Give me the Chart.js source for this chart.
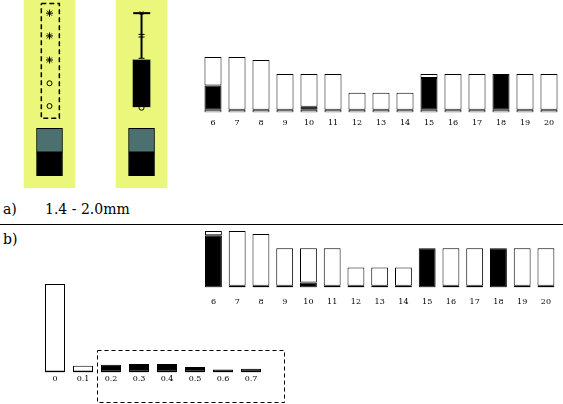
<!DOCTYPE html>
<html>
<head>
<meta charset="utf-8">
<script src="https://cdn.jsdelivr.net/npm/chart.js@4/dist/chart.umd.min.js"></script>
<style>
body { margin: 0; background: #fff; font-family: "DejaVu Serif", serif; }
#page { position: relative; width: 563px; height: 404px; overflow: hidden; }
canvas { position: absolute; }
.lbl { position: absolute; font-size: 14px; color: #000; white-space: nowrap; }
#sep { position: absolute; left: 0; top: 224px; width: 563px; height: 1px; background: #000; }
</style>
</head>
<body>
<div id="page">
  <canvas id="boxes" width="180" height="188" style="left:0;top:0"></canvas>
  <canvas id="topBars" width="360" height="76" style="left:201px;top:57px"></canvas>
  <canvas id="bottomBars" width="360" height="86" style="left:201px;top:231px"></canvas>
  <canvas id="sizeBars" width="245" height="120" style="left:41px;top:284px"></canvas>
  <div class="lbl" style="left:3px;top:201px">a)</div>
  <div class="lbl" style="left:45px;top:201px">1.4 - 2.0mm</div>
  <div id="sep"></div>
  <div class="lbl" style="left:3px;top:231px">b)</div>
</div>
<script>
// categories des barres a droite
var stations = ['6', '7', '8', '9', '10', '11', '12', '13', '14', '15', '16', '17', '18', '19', '20'];
var totals = [100, 100, 94.6, 69.5, 69.5, 69.5, 35.4, 35.4, 35.4, 69.5, 69.5, 69.5, 69.5, 69.5, 69.5];

// a) partie noire et socle
var topBase = [5, 5, 5, 5, 5, 5, 5, 5, 5, 5, 5, 5, 5, 5, 5];
var topBlack = [43.5, 0, 0, 0, 5.2, 0, 0, 0, 0, 57.3, 0, 0, 64.5, 0, 0];
// b) partie noire
var bottomBlack = [92.3, 3, 3, 3, 8.9, 3, 3, 3, 3, 69.5, 3, 3, 69.5, 3, 3];

// classes de taille en bas a gauche
var sizeClasses = ['0', '0.1', '0.2', '0.3', '0.4', '0.5', '0.6', '0.7'];
var sizeValues = [100, 7.6, 8.7, 9.4, 9.4, 6.0, 3.4, 4.2];
var sizeFilled = [false, false, true, true, true, true, true, true];
var sizeFrame = [1.5, 8.18, 25.6, -34]; // cadre pointille (x1, x2, yhaut, ybas)

// boites a gauche (echelle 0-100 sur la hauteur du panneau)
var panels = [1, 2];
var panelRange = [0, 100];
var greyPart = [19.1, 31.8];
var blackPart = [6.5, 19.1];
var leftStars = [93, 80.9, 68.1];
var leftCircles = [55.7, 43.6];
var leftFrame = [0.911, 1.107, 98.2, 37.1];
var rightBox = [43.2, 68.1];
var rightWhisker = [69, 93];
var rightCap = [1.91, 2.095];
var rightTicks = [81.7, 80.3, 69];
var rightOutlier = 42.7;

var yellow = 'rgb(234,247,122)';
var grey = 'rgb(76,112,112)';
var tickFont = { family: 'DejaVu Serif', size: 8 };

Chart.defaults.animation = false;
Chart.defaults.plugins.legend.display = false;
Chart.defaults.plugins.tooltip.enabled = false;

function diff(a, b, c) {
    var out = [];
    for (var i = 0; i < a.length; i++) {
        out.push(Math.max(0, a[i] - b[i] - (c ? c[i] : 0)));
    }
    return out;
}

function barScales(max, pad) {
    return {
        x: {
            stacked: true,
            grid: { display: false, drawTicks: false },
            border: { display: false },
            ticks: { color: '#000', font: tickFont, padding: pad, maxRotation: 0, autoSkip: false }
        },
        y: { stacked: true, display: false, min: 0, max: max }
    };
}

function segment(data, fill) {
    return {
        data: data,
        backgroundColor: fill,
        borderColor: '#000',
        borderWidth: 1,
        borderSkipped: false,
        barPercentage: 0.71,
        categoryPercentage: 1
    };
}

// a) barres
new Chart(document.getElementById('topBars'), {
    type: 'bar',
    data: {
        labels: stations,
        datasets: [
            segment(topBase, '#fff'),
            segment(topBlack, '#000'),
            segment(diff(totals, topBase, topBlack), '#fff')
        ]
    },
    options: { responsive: false, layout: { padding: 0, autoPadding: false }, scales: barScales(100, 5.5) }
});

// b) barres
new Chart(document.getElementById('bottomBars'), {
    type: 'bar',
    data: {
        labels: stations,
        datasets: [
            segment(bottomBlack, '#000'),
            segment(diff(totals, bottomBlack), '#fff')
        ]
    },
    options: { responsive: false, layout: { padding: 0, autoPadding: false }, scales: barScales(100, 10) }
});

// cadre pointille autour des petites classes
var framePlugin = {
    id: 'frame',
    afterDraw: function(chart) {
        var x = chart.scales.x, y = chart.scales.y, ctx = chart.ctx;
        var x1 = Math.round(x.getPixelForValue(sizeFrame[0])) + 0.5;
        var x2 = Math.round(x.getPixelForValue(sizeFrame[1])) + 0.5;
        var y1 = Math.round(y.getPixelForValue(sizeFrame[2])) + 0.5;
        var y2 = Math.min(Math.round(y.getPixelForValue(sizeFrame[3])), chart.height - 1) + 0.5;
        ctx.save();
        ctx.strokeStyle = '#000';
        ctx.lineWidth = 1;
        ctx.setLineDash([4, 3]);
        ctx.strokeRect(x1, y1, x2 - x1, y2 - y1);
        ctx.restore();
    }
};

new Chart(document.getElementById('sizeBars'), {
    type: 'bar',
    data: {
        labels: sizeClasses,
        datasets: [{
            data: sizeValues,
            backgroundColor: sizeFilled.map(function(f) { return f ? '#000' : '#fff'; }),
            borderColor: '#000',
            borderWidth: { top: 1, left: 1, right: 1, bottom: 2 },
            borderSkipped: false,
            barPercentage: 0.714,
            categoryPercentage: 1
        }]
    },
    options: {
        responsive: false,
        layout: { padding: { top: 0, left: 0, right: 21, bottom: 19 }, autoPadding: false },
        scales: barScales(100, 1.5)
    },
    plugins: [framePlugin]
});

// boites a gauche
function pts(xv, ys) {
    return ys.map(function(v) { return { x: xv, y: v }; });
}
function floating(xs, range) {
    return xs.map(function(v) { return { x: v, y: range }; });
}
function marks(data, style, radius, order) {
    return {
        type: 'line', data: data, showLine: false,
        pointStyle: style, pointRadius: radius,
        pointBorderColor: '#000', pointBackgroundColor: 'rgba(0,0,0,0)',
        pointBorderWidth: 1, order: order
    };
}

new Chart(document.getElementById('boxes'), {
    type: 'bar',
    data: {
        datasets: [
            { data: floating(panels, panelRange), backgroundColor: yellow, borderWidth: 0,
              barThickness: 51, grouped: false, order: 10 },
            { data: floating(panels, greyPart), backgroundColor: grey, borderColor: '#000',
              borderWidth: 1, borderSkipped: false, barThickness: 26, grouped: false, order: 5 },
            { data: floating(panels, blackPart), backgroundColor: '#000', borderColor: '#000',
              borderWidth: 1, borderSkipped: false, barThickness: 26, grouped: false, order: 5 },
            { data: [{ x: 2, y: rightBox }], backgroundColor: '#000', borderWidth: 0,
              barThickness: 17, grouped: false, order: 2 },
            marks([{ x: 2, y: rightOutlier }], 'circle', 2.5, 3),
            { type: 'line', data: pts(2, rightWhisker), borderColor: '#000', borderWidth: 2,
              pointRadius: 0, order: 4 },
            { type: 'line', data: [{ x: rightCap[0], y: rightWhisker[1] }, { x: rightCap[1], y: rightWhisker[1] }],
              borderColor: '#000', borderWidth: 2, pointRadius: 0, order: 4 },
            marks([{ x: 2, y: rightWhisker[1] }], 'crossRot', 2.5, 1),
            marks(pts(2, rightTicks), 'line', 3, 1),
            marks(pts(1, leftStars), 'star', 3.5, 1),
            marks(pts(1, leftCircles), 'circle', 2.5, 1),
            { type: 'line',
              data: [{ x: leftFrame[0], y: leftFrame[2] }, { x: leftFrame[1], y: leftFrame[2] },
                     { x: leftFrame[1], y: leftFrame[3] }, { x: leftFrame[0], y: leftFrame[3] },
                     { x: leftFrame[0], y: leftFrame[2] }],
              borderColor: '#000', borderWidth: 1.5, borderDash: [5, 3], pointRadius: 0, order: 1 }
        ]
    },
    options: {
        responsive: false,
        layout: { padding: 0, autoPadding: false },
        scales: {
            x: { type: 'linear', display: false, offset: false, min: 0.462, max: 2.418 },
            y: { display: false, min: 0, max: 100 }
        }
    }
});
</script>
</body>
</html>
